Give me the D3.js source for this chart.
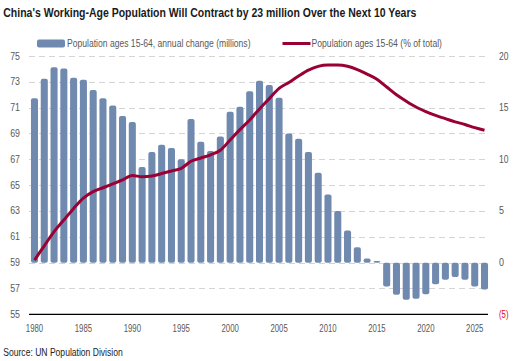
<!DOCTYPE html>
<html>
<head>
<meta charset="utf-8">
<script src="https://cdn.jsdelivr.net/npm/d3@7"></script>
<style>
  body { margin: 0; background: #fff; }
  svg { display: block; font-family: "Liberation Sans", Arial, sans-serif; }
</style>
</head>
<body>
<svg id="chart"></svg>
<script>
const years = d3.range(1980, 2027);
// annual change, millions (right axis)
const annualChange = [15.9, 17.8, 18.9, 18.8, 17.9, 17.7, 16.7, 15.9, 15.2, 14.2,
  13.6, 9.25, 10.7, 11.4, 11.1, 10.0, 13.9, 11.7, 10.8, 12.2,
  14.6, 15.1, 16.6, 17.6, 17.2, 15.95, 12.5, 12.0, 10.7, 8.7,
  6.6, 5.0, 3.1, 1.5, 0.4, 0.15, -2.3, -3.1, -3.6, -3.5,
  -3.05, -2.1, -1.65, -1.4, -1.65, -2.3, -2.6];
// share of total population, % (left axis)
const shareOfTotal = [59.2, 60.3, 61.4, 62.3, 63.2, 64.0, 64.5, 64.8, 65.1, 65.4,
  65.75, 65.65, 65.7, 65.9, 66.1, 66.3, 66.85, 67.1, 67.35, 67.7,
  68.5, 69.3, 70.05, 70.9, 71.7, 72.5, 72.95, 73.45, 73.9, 74.2,
  74.3, 74.3, 74.2, 73.95, 73.6, 73.2, 72.6, 72.0, 71.5, 71.05,
  70.7, 70.4, 70.15, 69.9, 69.7, 69.45, 69.25];
const leftTicks = d3.range(55, 76, 2);
const rightTicks = [-5, 0, 5, 10, 15, 20];
const xTickYears = [1980, 1985, 1990, 1995, 2000, 2005, 2010, 2015, 2020, 2025];

const W = 513, H = 361;
const barColor = '#7089ae', lineColor = '#990033', tickColor = '#595959';

const svg = d3.select('#chart').attr('width', W).attr('height', H);

const x = d3.scaleBand().domain(years).range([29.5, 489.5])
  .paddingInner(0.28).paddingOuter(0.15);
const yL = d3.scaleLinear().domain([55, 75]).range([314.3, 56]);
const yR = d3.scaleLinear().domain([-5, 20]).range([314.3, 56]);

// squeeze text to the narrow widths of the original font
const squeeze = (sel, w) => sel.attr('textLength', w).attr('lengthAdjust', 'spacingAndGlyphs');

// title
svg.append('text')
  .attr('x', 3.3).attr('y', 16.5)
  .attr('font-size', 12.5).attr('font-weight', 'bold').attr('fill', '#1a1a1a')
  .text("China's Working-Age Population Will Contract by 23 million Over the Next 10 Years")
  .call(squeeze, 413);

// legend
svg.append('rect').attr('x', 37).attr('y', 39.5).attr('width', 28).attr('height', 8)
  .attr('rx', 2).attr('fill', barColor);
svg.append('text').attr('x', 67).attr('y', 47).attr('font-size', 10).attr('fill', tickColor)
  .text('Population ages 15-64, annual change (millions)')
  .call(squeeze, 183.5);
svg.append('line').attr('x1', 282.5).attr('x2', 310.5).attr('y1', 43.5).attr('y2', 43.5)
  .attr('stroke', lineColor).attr('stroke-width', 3);
svg.append('text').attr('x', 311.5).attr('y', 47).attr('font-size', 10).attr('fill', tickColor)
  .text('Population ages 15-64 (% of total)')
  .call(squeeze, 130.5);

// gridlines
svg.append('g').selectAll('line')
  .data(leftTicks.filter(d => d !== 55))
  .join('line')
  .attr('x1', 29).attr('x2', 488)
  .attr('y1', d => Math.round(yL(d)) + 0.5).attr('y2', d => Math.round(yL(d)) + 0.5)
  .attr('stroke', '#d4d4d4').attr('stroke-dasharray', '6,4');

// left axis labels
svg.append('g').selectAll('text')
  .data(leftTicks).join('text')
  .attr('x', 20).attr('y', d => yL(d) + 3.5)
  .attr('text-anchor', 'end').attr('font-size', 10).attr('fill', tickColor)
  .text(d => d)
  .call(squeeze, 9.8);

// right axis labels
svg.append('g').selectAll('text')
  .data(rightTicks).join('text')
  .attr('x', 499).attr('y', d => yR(d) + 3.5)
  .attr('font-size', 10).attr('fill', d => d < 0 ? '#e8001c' : tickColor)
  .text(d => d < 0 ? `(${-d})` : d)
  .each(function (d) {
    const n = String(d < 0 ? `(${-d})` : d).length;
    d3.select(this).call(squeeze, n === 1 ? 5 : 9.5);
  });

// bars
svg.append('g').selectAll('rect')
  .data(years.map((yr, i) => ({ yr, v: annualChange[i] })))
  .join('rect')
  .attr('x', d => x(d.yr))
  .attr('width', x.bandwidth())
  .attr('y', d => yR(Math.max(0, d.v)))
  .attr('height', d => Math.abs(yR(d.v) - yR(0)))
  .attr('rx', 2)
  .attr('fill', barColor);

// line
const line = d3.line()
  .x((d, i) => x(years[i]) + x.bandwidth() / 2)
  .y(d => yL(d))
  .curve(d3.curveMonotoneX);
svg.append('path').datum(shareOfTotal)
  .attr('d', line)
  .attr('fill', 'none').attr('stroke', lineColor).attr('stroke-width', 3)
  .attr('stroke-linejoin', 'round');

// base axis line
svg.append('line').attr('x1', 29).attr('x2', 488)
  .attr('y1', yL(55)).attr('y2', yL(55))
  .attr('stroke', '#000').attr('stroke-width', 1.3);

// x labels
svg.append('g').selectAll('text')
  .data(xTickYears).join('text')
  .attr('x', d => x(d) + x.bandwidth() / 2).attr('y', 331.5)
  .attr('text-anchor', 'middle').attr('font-size', 10).attr('fill', tickColor)
  .text(d => d)
  .call(squeeze, 17.3);

// source
svg.append('text').attr('x', 3.3).attr('y', 355.5)
  .attr('font-size', 10.5).attr('fill', '#222')
  .text('Source: UN Population Division')
  .call(squeeze, 119.4);
</script>
</body>
</html>
